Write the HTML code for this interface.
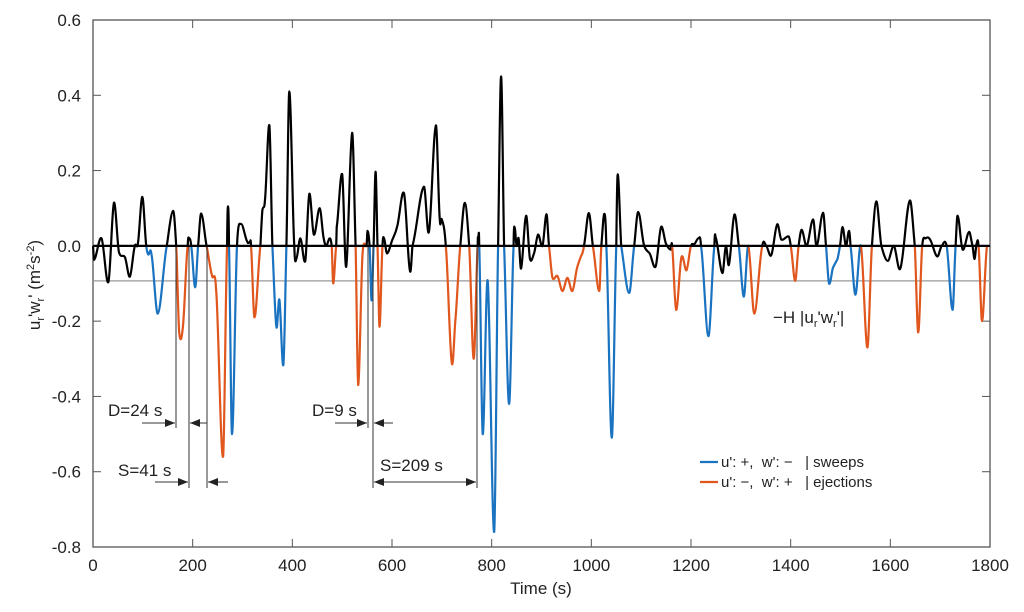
<!DOCTYPE html>
<html><head><meta charset="utf-8"><style>
body{margin:0;background:#fff;font-family:"Liberation Sans",sans-serif}
svg text{font-family:"Liberation Sans",sans-serif;fill:#222}
.pre{white-space:pre}
</style></head><body>
<svg id="chart" width="1024" height="607" xmlns="http://www.w3.org/2000/svg">
<g id="axes"></g>
<g id="series"></g>
<g id="annot"></g>
</svg>
<script>
const times=[0,2,17,31,42,52,64,74,84,90,99,107,111,117,130,148,161,167,173,180,190,193,197,205,211,217,228,239,247,261,269,271,273,279,289,297,310,315,317,324,336,340,345,354,360,368,374,382,388,394,404,408,416,426,434,443,455,463,468,475,479,482,488,489,500,508,520,527,532,541,549,551,555,559,563,567,571,575,581,584,590,602,610,624,636,641,664,674,688,696,700,708,720,727,737,746,755,764,772,773,775,782,792,805,813,819,825,835,844,846,850,854,859,869,877,885,893,902,910,915,922,932,942,952,962,972,982,985,995,1003,1016,1020,1026,1030,1041,1050,1053,1060,1076,1086,1094,1106,1117,1129,1140,1150,1159,1162,1170,1181,1191,1200,1207,1215,1220,1235,1247,1249,1263,1270,1276,1287,1296,1306,1315,1327,1343,1351,1361,1373,1381,1396,1400,1409,1416,1422,1432,1445,1452,1465,1471,1477,1485,1494,1499,1504,1511,1517,1520,1530,1541,1554,1563,1572,1582,1595,1607,1620,1639,1649,1656,1664,1671,1679,1694,1703,1713,1725,1731,1735,1745,1758,1765,1769,1773,1777,1784,1794];
const values=[0,-0.037,0.02,-0.096,0.114,-0.016,-0.03,-0.082,0,0.005,0.13,0,-0.023,-0.02,-0.18,0,0.093,0,-0.23,-0.22,0,0.02,0,-0.11,0,0.086,0,-0.08,-0.117,-0.56,0,0.105,0,-0.5,0,0.058,0.01,0.01,0,-0.19,0,0.095,0.12,0.32,0,-0.215,-0.143,-0.316,0,0.41,0,-0.035,0.02,-0.04,0.138,0.03,0.1,0.02,0,0.02,0,-0.1,0,0.05,0.19,-0.055,0.3,0,-0.37,-0.02,0,0.04,0,-0.145,0,0.197,0,-0.215,0,0.02,-0.02,0.02,0.05,0.14,-0.065,0,0.157,0.037,0.32,0.07,0.07,0,-0.31,-0.2,0,0.114,0,-0.3,0,0.015,0,-0.5,-0.093,-0.76,0,0.45,0,-0.42,0,0.05,0,0.02,-0.06,0.08,-0.035,-0.02,0.03,0,0.084,0,-0.085,-0.08,-0.12,-0.085,-0.12,-0.055,-0.02,0,0.087,0,-0.12,0,0.085,0,-0.51,0,0.19,0,-0.125,0,0.09,0,-0.02,-0.055,0.05,0.005,-0.01,0,-0.17,-0.03,-0.065,0,0.005,0.02,0,-0.24,0,0.025,-0.072,0,-0.05,0.083,0,-0.135,0,-0.18,0,0,-0.025,0.057,0.017,0.025,0,-0.093,0,0.043,0,0.07,0,0.088,0,-0.1,-0.058,-0.035,0,0.05,0,0.04,0,-0.13,0,-0.27,0,0.118,0,-0.04,0,-0.06,0.12,0,-0.23,0,0.02,0.018,-0.028,0,0,-0.17,0,0.08,-0.01,0.037,0,-0.035,0.005,0,-0.2,0];
const kinds=[0,0,0,0,0,0,0,0,0,0,0,0,1,1,1,0,0,0,2,2,0,0,0,1,0,0,0,2,2,2,0,0,0,1,0,0,0,0,0,2,0,0,0,0,0,1,1,1,0,0,0,0,0,0,0,0,0,0,0,0,0,2,0,0,0,0,0,0,2,2,0,0,0,1,0,0,0,2,0,0,0,0,0,0,0,0,0,0,0,0,0,0,2,2,0,0,0,2,0,0,0,1,1,1,0,0,0,1,0,0,0,0,0,0,0,0,0,0,0,0,2,2,2,2,2,2,2,0,0,0,2,0,0,0,1,0,0,0,1,0,0,0,0,0,0,0,0,0,2,2,2,0,0,0,0,1,0,0,0,0,0,0,0,1,0,2,0,0,0,0,0,0,0,2,0,0,0,0,0,0,0,1,1,1,0,0,0,0,0,1,0,2,0,0,0,0,0,0,0,0,2,0,0,0,0,0,0,1,0,0,0,0,0,0,0,0,2,0];
const yTicks=[0.6,0.4,0.2,0.0,-0.2,-0.4,-0.6,-0.8];
const xTicks=[0,200,400,600,800,1000,1200,1400,1600,1800];
const threshold=-0.093;
const X0=93,X1=990,Y0=20,Y1=547;
const xs=t=>X0+(t/1800)*(X1-X0);
const ys=v=>Y0+(0.6-v)/1.4*(Y1-Y0);
const NS="http://www.w3.org/2000/svg";
function mk(tag,attrs,parent){const e=document.createElementNS(NS,tag);for(const k in attrs)e.setAttribute(k,attrs[k]);parent.appendChild(e);return e;}
const axes=document.getElementById('axes'),ser=document.getElementById('series'),ann=document.getElementById('annot');
let frame=mk('rect',{x:X0,y:Y0,width:X1-X0,height:Y1-Y0,fill:'none',stroke:'#555','stroke-width':1.3},axes);


yTicks.forEach(v=>{const y=ys(v);
 mk('line',{x1:X0,x2:X0+8,y1:y,y2:y,stroke:'#555'},axes);
 mk('line',{x1:X1-8,x2:X1,y1:y,y2:y,stroke:'#555'},axes);
 const t=mk('text',{x:X0-12,y:y+6,'text-anchor':'end','font-size':17},axes);t.textContent=v.toFixed(1);
 
 
});
xTicks.forEach(v=>{const x=xs(v);
 mk('line',{x1:x,x2:x,y1:Y1,y2:Y1-8,stroke:'#555'},axes);
 mk('line',{x1:x,x2:x,y1:Y0,y2:Y0+8,stroke:'#555'},axes);
 const t=mk('text',{x:x,y:Y1+24,'text-anchor':'middle','font-size':17},axes);t.textContent=v;
 
 
});
let th=mk('line',{x1:X0,x2:xs(1800),y1:ys(threshold),y2:ys(threshold),stroke:'#999','stroke-width':1.2},axes);


const cols=['#000','#1a73c0','#e0561c'];
function segColor(i){const a=values[i],b=values[i+1];
 if(b<0&&kinds[i+1])return kinds[i+1]; if(a<0&&kinds[i])return kinds[i]; return 0;}
function tang(i){const a=Math.max(0,i-1),b=Math.min(times.length-1,i+1);
 return [(xs(times[b])-xs(times[a]))/2,(ys(values[b])-ys(values[a]))/2];}
let i=0;
while(i<times.length-1){const c=segColor(i);let d=`M${xs(times[i]).toFixed(1)},${ys(values[i]).toFixed(1)}`;
 while(i<times.length-1&&segColor(i)===c){
  const x0=xs(times[i]),y0=ys(values[i]),x1=xs(times[i+1]),y1=ys(values[i+1]);
  const t0=tang(i),t1=tang(i+1);const k=1/3*0.8;
  let c1y=y0+t0[1]*k,c2y=y1-t1[1]*k;
  d+=` C${(x0+(x1-x0)/3).toFixed(1)},${c1y.toFixed(1)} ${(x1-(x1-x0)/3).toFixed(1)},${c2y.toFixed(1)} ${x1.toFixed(1)},${y1.toFixed(1)}`;
  i++;}
 const p=mk('path',{d:d,fill:'none',stroke:cols[c],'stroke-width':2.2,'stroke-linejoin':'round'},ser);
 
 
}
let z=mk('line',{x1:X0,x2:xs(1800),y1:ys(0),y2:ys(0),stroke:'#000','stroke-width':2.2},ser);


</script>
<svg width="1024" height="607" style="position:absolute;left:0;top:0">
<defs><marker id="ah" markerWidth="10" markerHeight="8" refX="10" refY="4" orient="auto"><path d="M0,0 L10,4 L0,8 z" fill="#222"/></marker></defs>
<g stroke="#333" stroke-width="1" fill="none">
<line x1="176" y1="247" x2="176" y2="428"/><line x1="189" y1="247" x2="189" y2="488"/><line x1="207" y1="247" x2="207" y2="488"/>
<line x1="368" y1="247" x2="368" y2="428"/><line x1="373" y1="247" x2="373" y2="488"/><line x1="477" y1="247" x2="477" y2="488"/>
<line x1="142" y1="423" x2="175" y2="423" marker-end="url(#ah)"/><line x1="207" y1="423" x2="190" y2="423" marker-end="url(#ah)"/>
<line x1="155" y1="482" x2="188" y2="482" marker-end="url(#ah)"/><line x1="228" y1="482" x2="208" y2="482" marker-end="url(#ah)"/>
<line x1="335" y1="423" x2="367" y2="423" marker-end="url(#ah)"/><line x1="393" y1="423" x2="374" y2="423" marker-end="url(#ah)"/>
<line x1="420" y1="482" x2="374" y2="482" marker-end="url(#ah)"/><line x1="420" y1="482" x2="476" y2="482" marker-end="url(#ah)"/>
</g>
<g font-size="17" fill="#222" font-family="Liberation Sans, sans-serif">
<text x="108" y="416">D=24 s</text>
<text x="118" y="476">S=41 s</text>
<text x="312" y="416">D=9 s</text>
<text x="380" y="471">S=209 s</text>
<text x="773" y="323">−H |u<tspan font-size="11" dy="4">r</tspan><tspan dy="-4">'w</tspan><tspan font-size="11" dy="4">r</tspan><tspan dy="-4">'|</tspan></text>
<text x="541" y="594" text-anchor="middle">Time (s)</text>
<text transform="translate(40,285) rotate(-90)" text-anchor="middle">u<tspan font-size="11" dy="4">r</tspan><tspan dy="-4">'w</tspan><tspan font-size="11" dy="4">r</tspan><tspan dy="-4">' (m</tspan><tspan font-size="11" dy="-6">2</tspan><tspan dy="6">s</tspan><tspan font-size="11" dy="-6">-2</tspan><tspan dy="6">)</tspan></text>
</g>
<g font-size="15" font-family="Liberation Sans, sans-serif" fill="#222">
<line x1="700" y1="462" x2="718" y2="462" stroke="#1a73c0" stroke-width="2.2"/>
<text class="pre" x="721" y="467">u': +,  w': −   | sweeps</text>
<line x1="700" y1="482" x2="718" y2="482" stroke="#e0561c" stroke-width="2.2"/>
<text class="pre" x="721" y="487">u': −,  w': +   | ejections</text>
</g>
</svg>
</body></html>
